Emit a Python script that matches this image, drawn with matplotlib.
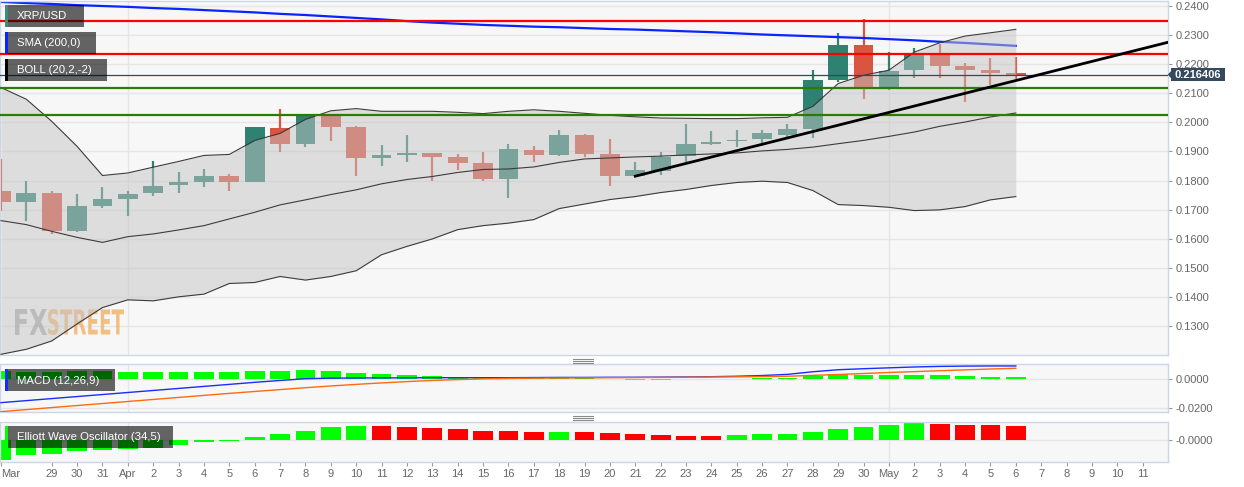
import numpy as np
import pandas as pd
import matplotlib
matplotlib.use("Agg")
import matplotlib.pyplot as plt
from matplotlib.patches import Rectangle, Polygon, PathPatch
from matplotlib.lines import Line2D
from matplotlib.textpath import TextPath
from matplotlib.font_manager import FontProperties
from matplotlib.transforms import Affine2D, IdentityTransform, blended_transform_factory

plt.rcParams['font.family'] = ['Liberation Sans', 'DejaVu Sans']

W, H = 1244, 487

# daily XRP/USD candles, 27 Mar - 6 May
opens = [0.17655, 0.17252, 0.17562, 0.16252, 0.17128, 0.17369, 0.17562, 0.17838, 0.17955, 0.18138,
         0.17941, 0.19817, 0.19266, 0.20276, 0.19838, 0.18769, 0.18862, 0.18941, 0.18793, 0.18597,
         0.18059, 0.19059, 0.18886, 0.19555, 0.18897, 0.18148, 0.18321, 0.18828, 0.19266, 0.19345,
         0.19414, 0.19566, 0.19783, 0.21448, 0.22655, 0.21217, 0.21793, 0.22310, 0.21931, 0.21793,
         0.21700]
highs = [0.18748, 0.17966, 0.17655, 0.17552, 0.17793, 0.17631, 0.18655, 0.18276, 0.18379, 0.18207,
         0.19828, 0.20472, 0.20250, 0.20276, 0.19860, 0.19207, 0.19576, 0.18941, 0.18897, 0.18976,
         0.19266, 0.19172, 0.19724, 0.19610, 0.19438, 0.18631, 0.18976, 0.19955, 0.19690, 0.19748,
         0.19724, 0.19955, 0.21793, 0.23059, 0.23541, 0.22403, 0.22541, 0.22679, 0.22024, 0.22197,
         0.22231]
lows = [0.16966, 0.16597, 0.16162, 0.16217, 0.17045, 0.16793, 0.17459, 0.17586, 0.17769, 0.17631,
        0.17941, 0.18976, 0.19148, 0.19369, 0.18138, 0.18483, 0.18631, 0.17966, 0.18345, 0.17966,
        0.17390, 0.18631, 0.18838, 0.18803, 0.17803, 0.18148, 0.18172, 0.18631, 0.19207, 0.19148,
        0.19172, 0.19493, 0.19472, 0.21390, 0.20817, 0.21128, 0.21541, 0.21541, 0.20700, 0.21276,
        0.21507]
closes = [0.17252, 0.17576, 0.16252, 0.17128, 0.17355, 0.17541, 0.17828, 0.17955, 0.18138, 0.17941,
          0.19828, 0.19266, 0.20231, 0.19828, 0.18769, 0.18862, 0.18941, 0.18793, 0.18597, 0.18059,
          0.19069, 0.18886, 0.19555, 0.18897, 0.18148, 0.18345, 0.18803, 0.19266, 0.19321, 0.19403,
          0.19631, 0.19759, 0.21448, 0.22655, 0.21217, 0.21759, 0.22310, 0.21931, 0.21793, 0.21700,
          0.216406]

sma200 = [0.2414, 0.2410, 0.2407, 0.2403, 0.2400, 0.2397, 0.2393, 0.2390, 0.2386, 0.2382,
          0.2378, 0.2373, 0.2369, 0.2364, 0.2359, 0.2354, 0.2348, 0.2343, 0.2339, 0.2335,
          0.2332, 0.2329, 0.2327, 0.2324, 0.2321, 0.2319, 0.2316, 0.2313, 0.2310, 0.2306,
          0.2302, 0.2299, 0.2296, 0.2293, 0.2290, 0.2286, 0.2282, 0.2277, 0.2273, 0.2268,
          0.2263]

boll_upper = [0.21197, 0.20793, 0.20034, 0.19172, 0.18172, 0.18259, 0.18459, 0.18655, 0.18862, 0.18897,
              0.19379, 0.19621, 0.20103, 0.20397, 0.20472, 0.20379, 0.20379, 0.20379, 0.20345, 0.20300,
              0.20379, 0.20431, 0.20379, 0.20310, 0.20241, 0.20190, 0.20148, 0.20138, 0.20128, 0.20128,
              0.20155, 0.20172, 0.20552, 0.21334, 0.21621, 0.21793, 0.22414, 0.22734, 0.22966, 0.23079,
              0.23197]
boll_mid = [0.16621, 0.16483, 0.16252, 0.16045, 0.15872, 0.16069, 0.16162, 0.16300, 0.16448, 0.16679,
            0.16907, 0.17162, 0.17334, 0.17517, 0.17679, 0.17886, 0.18034, 0.18138, 0.18276, 0.18379,
            0.18397, 0.18466, 0.18621, 0.18741, 0.18776, 0.18810, 0.18838, 0.18879, 0.18914, 0.18948,
            0.19017, 0.19069, 0.19148, 0.19266, 0.19379, 0.19517, 0.19666, 0.19862, 0.20010, 0.20183,
            0.20321]
boll_lower = [0.12024, 0.12197, 0.12483, 0.13069, 0.13631, 0.13897, 0.13862, 0.14000, 0.14093, 0.14459,
              0.14493, 0.14700, 0.14576, 0.14700, 0.14897, 0.15448, 0.15734, 0.15990, 0.16310, 0.16448,
              0.16534, 0.16655, 0.17034, 0.17190, 0.17345, 0.17448, 0.17586, 0.17690, 0.17828, 0.17931,
              0.17976, 0.17931, 0.17655, 0.17172, 0.17138, 0.17079, 0.16966, 0.16990, 0.17103, 0.17334,
              0.17448]

red_levels = [0.2349, 0.2236]
green_levels = [0.2117, 0.2025]
trend_x = [25, 45.98]
trend_y = [0.18148, 0.22748]

macd_line = [-0.0161, -0.0147, -0.0133, -0.0119, -0.0105, -0.0091, -0.0077, -0.0063, -0.0049, -0.0035,
             -0.0021, -0.0008, 0.0004, 0.0008, 0.0009, 0.0010, 0.0010, 0.0011, 0.0011, 0.0011,
             0.0011, 0.0012, 0.0013, 0.0013, 0.0014, 0.0014, 0.0015, 0.0016, 0.0018, 0.0021,
             0.0026, 0.0034, 0.0052, 0.0066, 0.0073, 0.0079, 0.0085, 0.0089, 0.0091, 0.0092,
             0.0092]
signal_line = [-0.0223, -0.0209, -0.0195, -0.0181, -0.0167, -0.0153, -0.0139, -0.0125, -0.0111, -0.0097,
               -0.0084, -0.0071, -0.0058, -0.0046, -0.0035, -0.0025, -0.0016, -0.0008, -0.0002, 0.0003,
               0.0006, 0.0008, 0.0009, 0.0010, 0.0011, 0.0012, 0.0013, 0.0014, 0.0016, 0.0017,
               0.0019, 0.0021, 0.0027, 0.0033, 0.0040, 0.0047, 0.0053, 0.0059, 0.0065, 0.0071,
               0.0076]
macd_hist = [0.0060, 0.0053, 0.0053, 0.0057, 0.0057, 0.0053, 0.0053, 0.0053, 0.0053, 0.0050,
             0.0057, 0.0057, 0.0062, 0.0057, 0.0046, 0.0037, 0.0030, 0.0023, 0.0018, 0.0012,
             0.0009, 0.0009, 0.0016, 0.0011, 0.0002, -0.0003, -0.0003, 0.0002, 0.0003, 0.0004,
             0.0011, 0.0011, 0.0023, 0.0037, 0.0032, 0.0031, 0.0033, 0.0030, 0.0023, 0.0018,
             0.0014]

ewo = [-0.00203, -0.00153, -0.00140, -0.00110, -0.00103, -0.00090, -0.00077, -0.00047, -0.00023, -0.00007,
       0.00030, 0.00057, 0.00093, 0.00127, 0.00143, 0.00137, 0.00133, 0.00123, 0.00110, 0.00093,
       0.00087, 0.00080, 0.00083, 0.00077, 0.00073, 0.00057, 0.00050, 0.00043, 0.00040, 0.00047,
       0.00057, 0.00063, 0.00077, 0.00113, 0.00127, 0.00147, 0.00167, 0.00163, 0.00147, 0.00147,
       0.00137]

tick_dates = pd.date_range('2019-03-27', '2019-05-11', freq='D')

TEAL = '#2f8272'
RED = '#da5442'
GRID = '#e6e6e6'
FRAME = '#ccd6eb'
TXT = '#666666'

x = np.arange(len(opens))
o, h, l, c = map(np.array, (opens, highs, lows, closes))
XL = (-0.0394, 45.98)

fig = plt.figure(figsize=(W / 100, H / 100), dpi=100)
fig.patch.set_facecolor('white')


def px_axes(top, bottom):
    return fig.add_axes([0, 1 - bottom / H, 1167.5 / W, (bottom - top) / H])


def style(ax):
    ax.set_facecolor('#f7f7f7')
    for s in ax.spines.values():
        s.set_color(FRAME)
        s.set_linewidth(1)
    ax.yaxis.tick_right()
    ax.tick_params(axis='y', length=3, width=0.8, color='#999999', labelsize=8,
                   labelcolor=TXT, pad=2.5)
    ax.set_xlim(*XL)
    ax.grid(axis='y', color=GRID, lw=1, zorder=0)
    ax.set_axisbelow(True)
    for d in (5, 35):
        ax.axvline(d, color=GRID, lw=1, zorder=0.5)


ax = px_axes(1, 355)
macd_ax = px_axes(364, 412)
ewo_ax = px_axes(422, 462)
for a in (ax, macd_ax, ewo_ax):
    style(a)

# main price panel
ax.set_ylim(0.12, 0.24172)
ax.set_yticks(np.arange(0.13, 0.2401, 0.01))
ax.yaxis.set_major_formatter(plt.FormatStrFormatter('%.4f'))
ax.set_xticks([])

cols = np.where(c >= o, TEAL, RED)
ax.vlines(x, l, h, color=cols, lw=1.6, zorder=2)
ax.bar(x, np.maximum(np.abs(c - o), 0.00025), bottom=np.minimum(o, c), width=0.78,
       color=cols, lw=0, zorder=2.1)
ax.plot(x, sma200, color='#0a24ff', lw=1.6, zorder=2.5)
ax.fill_between(x, boll_lower, boll_upper, color='#c4c4c4', alpha=0.5, lw=0, zorder=3)
for band in (boll_upper, boll_mid, boll_lower):
    ax.plot(x, band, color='#3c3c3c', lw=0.8, zorder=3.5)
for lv in red_levels:
    ax.axhline(lv, color='#ff0000', lw=1.6, zorder=4)
for lv in green_levels:
    ax.axhline(lv, color='#2a7d00', lw=1.6, zorder=4)
ax.axhline(closes[-1], color='#2b4a70', lw=0.9, zorder=4)
ax.plot(trend_x, trend_y, color='black', lw=2.0, zorder=4.5)

# last price tag on the right axis
bt = blended_transform_factory(ax.transAxes, ax.transData)
dpp = (0.24172 - 0.12) / 354
ax.add_patch(Rectangle((1.0027, closes[-1] - 6.7 * dpp), 54 / 1167.5, 13.4 * dpp,
                       transform=bt, facecolor='#34495e', lw=0, clip_on=False, zorder=6))
ax.add_patch(Polygon([(1.0003, closes[-1]), (1.0030, closes[-1] + 3.5 * dpp),
                      (1.0030, closes[-1] - 3.5 * dpp)], closed=True, transform=bt,
                     facecolor='#34495e', lw=0, clip_on=False, zorder=6))
ax.text(1.0027 + 27 / 1167.5, closes[-1], '%.6f' % closes[-1], transform=bt, ha='center',
        va='center', color='white', fontsize=8, fontweight='bold', zorder=7, clip_on=False)

# FXSTREET watermark
fp = FontProperties(family='DejaVu Sans', weight='bold')
for word, x0, x1, colr in (('FX', 15, 47, '#a6a6a6'), ('STREET', 48, 124, '#f3b46e')):
    tp = TextPath((0, 0), word, size=40, prop=fp)
    ext = tp.get_extents()
    sx = (x1 - x0) / ext.width
    sy = 26 / ext.height
    tr = Affine2D().translate(-ext.x0, -ext.y0).scale(sx, sy).translate(x0, H - 335)
    ax.add_patch(PathPatch(tp, transform=tr + IdentityTransform(), facecolor=colr, lw=0,
                           alpha=0.85, zorder=1, clip_on=False))

# MACD panel
macd_ax.set_ylim(-0.02255, 0.01055)
macd_ax.set_yticks([0, -0.02])
macd_ax.yaxis.set_major_formatter(plt.FormatStrFormatter('%.4f'))
macd_ax.set_xticks([])
mh = np.array(macd_hist)
hcols = [('#00ff00' if v >= 0 else '#ff0000') for v in mh]
bars = macd_ax.bar(x, mh, width=0.78, color=hcols, lw=0, zorder=2)
for b, v in zip(bars, mh):
    if abs(v) < 0.0005:
        b.set_alpha(0.35)
macd_ax.plot(x, macd_line, color='#1a2cff', lw=1.0, zorder=3)
macd_ax.plot(x, signal_line, color='#ff6a10', lw=1.0, zorder=3)

# Elliott wave oscillator panel
ew = np.array(ewo)
ecols = ['#00ff00'] + [('#00ff00' if ew[i] > ew[i - 1] else '#ff0000') for i in range(1, len(ew))]
ewo_ax.set_ylim(-0.0022, 0.0018)
ewo_ax.set_yticks([0])
ewo_ax.set_yticklabels(['-0.0000'])
ewo_ax.bar(x, ew, width=0.78, color=ecols, lw=0, zorder=2)

ticks = [0] + list(range(2, len(tick_dates)))
labels = []
for i in ticks:
    d = tick_dates[i]
    labels.append(d.strftime('%b') if (d.day == 1 or i == 0) else str(d.day))
ewo_ax.set_xticks(ticks)
ewo_ax.set_xticklabels(labels)
ewo_ax.tick_params(axis='x', length=3, width=0.8, color='#999999', labelsize=8,
                   labelcolor=TXT, pad=2)
ewo_ax.get_xticklabels()[0].set_ha('left')
ewo_ax.set_xlim(*XL)


# legend boxes
def fx(v):
    return v / W


def fy(v):
    return 1 - v / H


def tag(x0, y0, x1, y1, bar, text):
    fig.add_artist(Rectangle((fx(x0), fy(y1)), (x1 - x0) / W, (y1 - y0) / H,
                             transform=fig.transFigure, facecolor='black', alpha=0.6, lw=0,
                             zorder=10))
    fig.add_artist(Rectangle((fx(x0), fy(y1)), 3 / W, (y1 - y0) / H,
                             transform=fig.transFigure, facecolor=bar, lw=0, zorder=11))
    fig.text(fx(x0 + 12), fy((y0 + y1) / 2 + 0.5), text, color='white', fontsize=8.2,
             ha='left', va='center', zorder=12)


tag(5, 5, 84, 26.7, '#3a8c7e', 'XRP/USD')
tag(5, 32, 96, 53.7, '#0a24ff', 'SMA (200,0)')
tag(5, 59, 107, 80.7, '#000000', 'BOLL (20,2,-2)')
tag(5, 369, 115, 391, '#1030ff', 'MACD (12,26,9)')
tag(5, 426, 173, 447.7, '#00ff00', 'Elliott Wave Oscillator (34,5)')

# panel resize grips
for top in (358.5, 415.5):
    for k in range(3):
        yy = fy(top + 2 * k)
        fig.add_artist(Line2D([fx(573), fx(593)], [yy, yy], transform=fig.transFigure,
                              color='#8a8a8a', lw=0.8))

fig.savefig('out.png', dpi=100, facecolor='white')
